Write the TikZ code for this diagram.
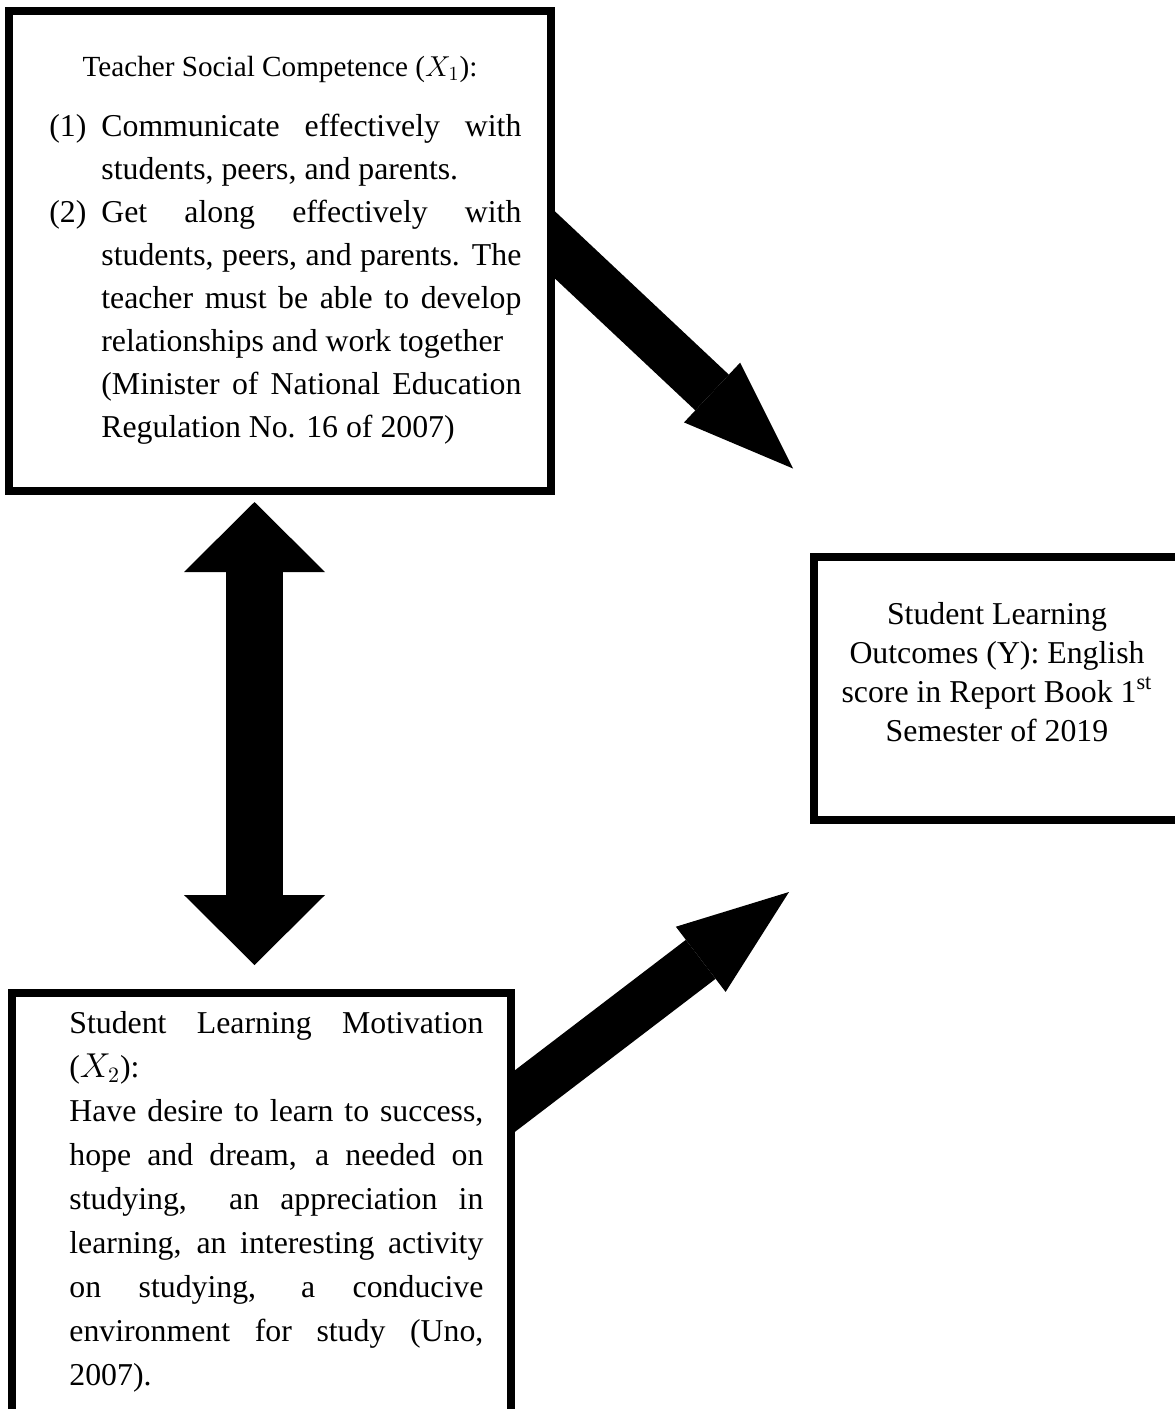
\documentclass[tikz,border=0pt]{standalone}
\usepackage{fontspec}
\setmainfont{Liberation Serif}
\usepackage{tikz}
\usetikzlibrary{arrows.meta, positioning, calc, backgrounds}
\tikzset{
    framebox/.style={
        rectangle, draw=black, fill=white, line width=4pt, inner sep=0pt
    },
    boxtext/.style={
        inner sep=0pt, align=left, anchor=north west,
        font=\fontsize{15.9pt}{21.5pt}\selectfont
    },
    fatarrow/.style={
        line width=24.5pt,
        -{Triangle[length=55.5pt, width=41pt, line width=0pt]}
    },
    twowayarrow/.style={
        line width=28.5pt,
        {Triangle[length=35pt, width=70.5pt, line width=0pt]}-{Triangle[length=35pt, width=70.5pt, line width=0pt]}
    }
}
\newcommand{\fullline}[2][210pt]{\makebox[#1][s]{#2}}
\newcommand{\itemlabel}[1]{\makebox[26pt][l]{#1}}

\begin{document}
\begin{tikzpicture}[x=0.5pt, y=-0.5pt]
    \useasboundingbox (0,0) rectangle (1174,1409);
    % the three boxes
    \node [framebox, minimum width=271pt, minimum height=240pt] (social) at (280,251) {};
    \node [framebox, minimum width=183pt, minimum height=131.5pt] (outcome) at (997,688) {};
    \node [framebox, minimum width=249.75pt, minimum height=218.5pt] (motiv) at (261.25,1211.5) {};
    % texts
    \node [boxtext, anchor=base, font=\fontsize{14.6pt}{21.5pt}\selectfont] (socialtitle) at ($(social.north)+(0,69)$) {Teacher Social Competence ($X_1$):};
    \node [boxtext] (socialitems) at ($(social.north west)+(44,105)$) {%
        \rule{0pt}{12pt}\itemlabel{(1)}\fullline{Communicate effectively with}\\
        \hspace*{26pt}students, peers, and parents.\\
        \itemlabel{(2)}\fullline{Get along effectively with}\\
        \hspace*{26pt}\fullline{students, peers, and parents. The}\\
        \hspace*{26pt}\fullline{teacher must be able to develop}\\
        \hspace*{26pt}relationships and work together\\
        \hspace*{26pt}\fullline{(Minister of National Education}\\
        \hspace*{26pt}Regulation No. 16 of 2007)};
    \node [boxtext, align=center, anchor=north, font=\fontsize{15.9pt}{19.5pt}\selectfont] (outcometext) at ($(outcome.north)+(0,47.5)$) {\rule{0pt}{12pt}Student Learning\\ Outcomes (Y): English\\ score in Report Book 1\textsuperscript{st}\\ Semester of 2019};
    \node [boxtext, font=\fontsize{15.9pt}{22pt}\selectfont] (motivtext) at ($(motiv.north west)+(61.5,20)$) {%
        \rule{0pt}{12pt}\fullline[207pt]{Student Learning Motivation}\\
        ($X_2$):\\
        \fullline[207pt]{Have desire to learn to success,}\\
        \fullline[207pt]{hope and dream, a needed on}\\
        \fullline[207pt]{studying,\ \ an appreciation in}\\
        \fullline[207pt]{learning, an interesting activity}\\
        \fullline[207pt]{on studying, a conducive}\\
        \fullline[207pt]{environment for study (Uno,}\\
        2007).};
    % arrows
    \coordinate (toY1) at ($(outcome.north west)+(-17,-84)$);
    \coordinate (toY2) at ($(outcome.south west)+(-21,68.5)$);
    \coordinate (upTip) at ($(social.south)+(-25.5,7)$);
    \coordinate (downTip) at ($(motiv.north)+(-6.75,-24)$);
    \begin{scope}[on background layer]
        \draw [fatarrow, shorten <=-30pt] ($(social.east)+(0,-6)$) -- (toY1);
        \draw [fatarrow, shorten <=-30pt] ($(motiv.north east)+(0,112)$) -- (toY2);
        \draw [twowayarrow] (upTip) -- (downTip);
    \end{scope}
\end{tikzpicture}
\end{document}
